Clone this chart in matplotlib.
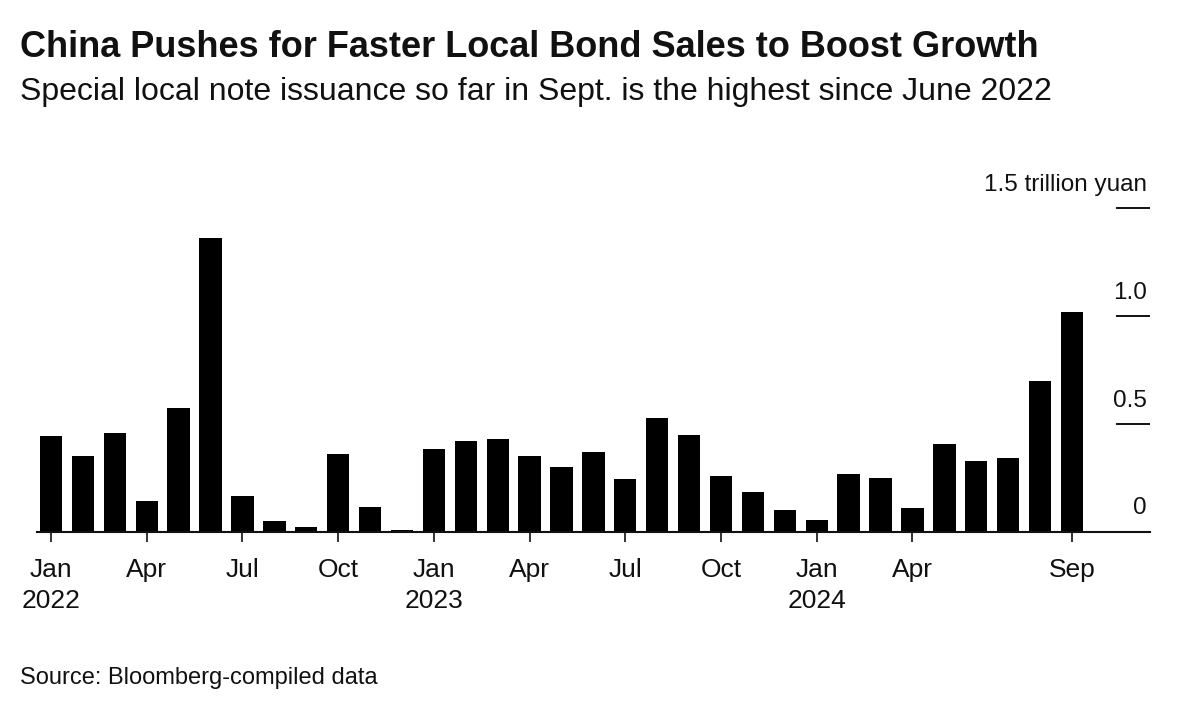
import matplotlib.pyplot as plt
import matplotlib.transforms as mtransforms
import numpy as np

plt.rcParams['font.family'] = ['Liberation Sans', 'DejaVu Sans']

# monthly special local note issuance, trillion yuan (Jan 2022 - Sep 2024)
months = ['Jan', 'Feb', 'Mar', 'Apr', 'May', 'Jun', 'Jul', 'Aug', 'Sep', 'Oct', 'Nov', 'Dec']
years = [2022, 2023, 2024]
values = [0.444, 0.352, 0.460, 0.145, 0.573, 1.363, 0.168, 0.051, 0.023, 0.363, 0.116, 0.011,
          0.384, 0.423, 0.429, 0.353, 0.299, 0.372, 0.245, 0.529, 0.449, 0.258, 0.187, 0.101,
          0.054, 0.268, 0.251, 0.111, 0.408, 0.328, 0.342, 0.698, 1.019]
tick_idx = [0, 3, 6, 9, 12, 15, 18, 21, 24, 27, 32]
tick_labels = ['Jan\n2022', 'Apr', 'Jul', 'Oct', 'Jan\n2023', 'Apr', 'Jul', 'Oct',
               'Jan\n2024', 'Apr', 'Sep']
y_ticks = [0, 0.5, 1.0, 1.5]
y_labels = ['0', '0.5', '1.0', '1.5 trillion yuan']

W, H = 1200, 703
fig = plt.figure(figsize=(W / 100, H / 100), dpi=100)

# axes placed in pixel terms
left, right, bottom, top = 37, 1150, 532, 208
ax = fig.add_axes([left / W, 1 - bottom / H, (right - left) / W, (bottom - top) / H])

x = np.arange(len(values))
ax.bar(x, values, width=0.7, color='black', zorder=2)

step = 31.9
ax.set_xlim(-(51 - left) / step, 32 + (right - 1072) / step)
ax.set_ylim(0, 1.5)

for s in ['top', 'right', 'left']:
    ax.spines[s].set_visible(False)
ax.spines['bottom'].set_linewidth(1.5)
ax.spines['bottom'].set_color('#111111')

ax.set_yticks([])
ax.set_xticks(tick_idx)
ax.set_xticklabels(tick_labels, fontsize=19, linespacing=1.4, color='#111111')
ax.tick_params(axis='x', direction='out', length=7.5, width=1.2, pad=11, colors='#111111')

# right-side short gridline marks with labels above them
trans = mtransforms.blended_transform_factory(ax.transAxes, ax.transData)
x0 = (1116 - left) / (right - left)
for yv, lab in zip(y_ticks, y_labels):
    if yv > 0:
        ax.plot([x0, 1.0], [yv, yv], color='#111111', lw=1.4, transform=trans,
                clip_on=False, solid_capstyle='butt')
    ax.annotate(lab, xy=(0.997, yv), xycoords=trans, xytext=(0, 9),
                textcoords='offset points', ha='right', va='bottom',
                fontsize=17.5, color='#111111')

fig.text(20 / W, 1 - 57 / H, 'China Pushes for Faster Local Bond Sales to Boost Growth',
         fontsize=26, fontweight='bold', va='baseline', ha='left', color='#111111')
fig.text(20 / W, 1 - 100 / H,
         'Special local note issuance so far in Sept. is the highest since June 2022',
         fontsize=23, va='baseline', ha='left', color='#111111')
fig.text(20 / W, 1 - 684 / H, 'Source: Bloomberg-compiled data',
         fontsize=17, va='baseline', ha='left', color='#111111')

fig.savefig('out.png', dpi=100, facecolor='white')
